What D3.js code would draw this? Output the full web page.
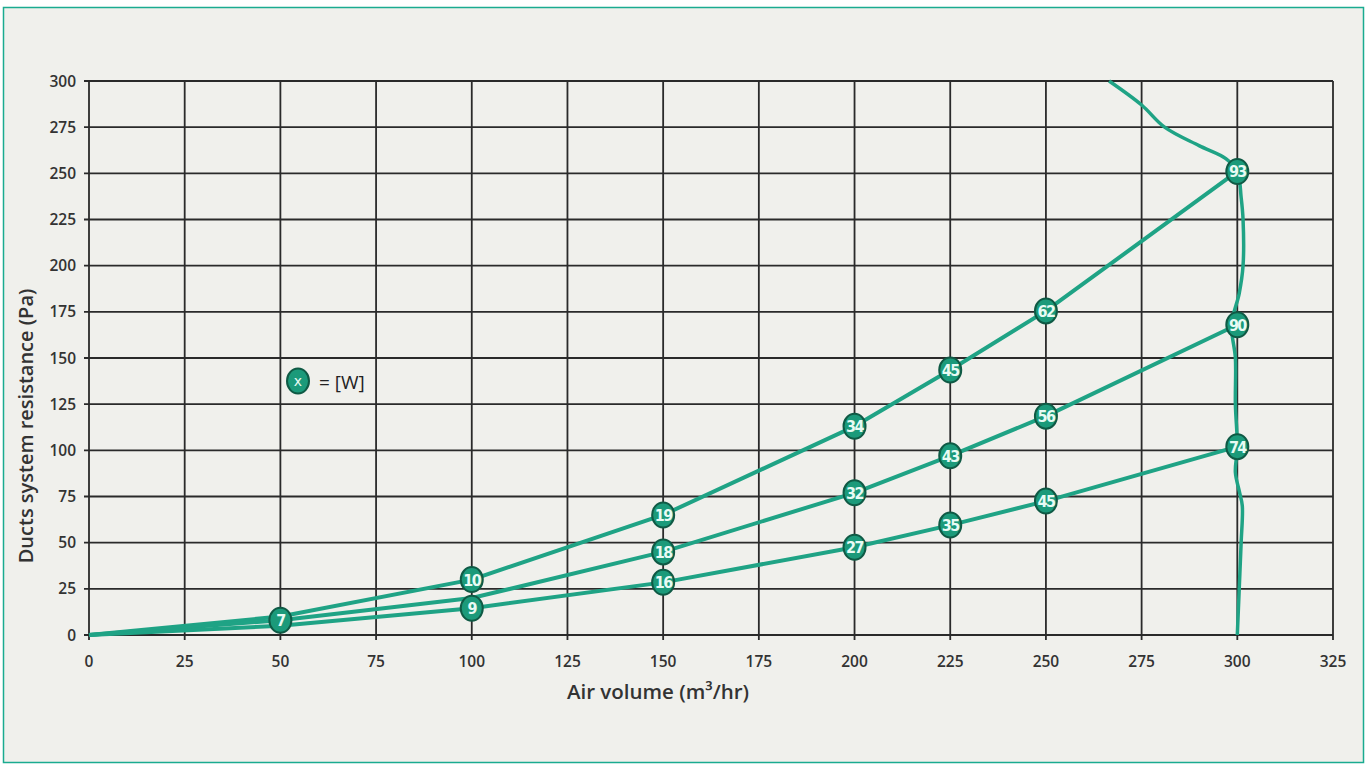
<!DOCTYPE html>
<html><head><meta charset="utf-8">
<script src="https://cdn.jsdelivr.net/npm/d3@7"></script>
<style>
html,body{margin:0;padding:0;background:#fff;}
svg{display:block;}
</style></head>
<body>
<svg id="c" width="1367" height="765"></svg>
<script>
const airVolume = [0, 50, 100, 150, 200, 225, 250, 300];
const resHigh = [0, 10, 30, 65, 113, 143.5, 175.5, 251];
const wattHigh = [null, null, 10, 19, 34, 45, 62, 93];
const resMid = [0, 8, 20, 45, 77, 97, 118.5, 168];
const wattMid = [null, 7, null, 18, 32, 43, 56, 90];
const resLow = [0, 5, 14.5, 28.5, 47.5, 59.5, 72.5, 102];
const wattLow = [null, null, 9, 16, 27, 35, 45, 74];
const fanAir = [266.5, 275, 281, 290, 297, 300, 301, 301.5, 301.5, 300.5, 298.5, 299.5, 299.5, 300, 299.5, 300.5, 301.3, 301, 300.5, 300];
const fanRes = [300, 287, 275, 265, 258, 251, 237, 225, 200, 185, 168, 150, 125, 102, 88, 78, 70, 50, 25, 0];
const xTicks = [0, 25, 50, 75, 100, 125, 150, 175, 200, 225, 250, 275, 300, 325];
const yTicks = [0, 25, 50, 75, 100, 125, 150, 175, 200, 225, 250, 275, 300];

const svg = d3.select("#c");
const teal = "#1fa385", dark = "#0f5a45";
const markFont = "'DejaVu Sans', sans-serif";
svg.append("rect").attr("x",3.5).attr("y",7.5).attr("width",1360).attr("height",755)
  .attr("fill","#f0f0ec").attr("stroke","#1aab90").attr("stroke-width",1.5);

const m = {l:89, r:1333, t:81, b:635};
const x = d3.scaleLinear().domain([0,325]).range([m.l,m.r]);
const y = d3.scaleLinear().domain([0,300]).range([m.b,m.t]);

const g = svg.append("g");
// grid
g.selectAll(".vg").data(xTicks).join("line").attr("x1",d=>x(d)).attr("x2",d=>x(d))
  .attr("y1",y(300)).attr("y2",y(0)+5).attr("stroke","#2a2a2a").attr("stroke-width",1.8);
g.selectAll(".hg").data(yTicks).join("line").attr("y1",d=>y(d)).attr("y2",d=>y(d))
  .attr("x1",x(0)-5).attr("x2",x(325)).attr("stroke","#2a2a2a").attr("stroke-width",1.8);

// tick labels
g.selectAll(".xl").data(xTicks).join("text").attr("x",d=>x(d)).attr("y",667)
  .attr("text-anchor","middle").attr("font-family","Open Sans").attr("font-weight",600)
  .attr("font-size",15.5).attr("fill","#333").text(d=>d);
g.selectAll(".yl").data(yTicks).join("text").attr("x",76).attr("y",d=>y(d)+5.5)
  .attr("text-anchor","end").attr("font-family","Open Sans").attr("font-weight",600)
  .attr("font-size",15.5).attr("fill","#333").text(d=>d);

// titles
svg.append("text").attr("x",658).attr("y",699).attr("text-anchor","middle")
  .attr("font-family","Open Sans").attr("font-weight",600).attr("font-size",20.5).attr("fill","#333")
  .text("Air volume (m³/hr)");
svg.append("text").attr("transform","translate(33,426) rotate(-90)").attr("text-anchor","middle")
  .attr("font-family","Open Sans").attr("font-weight",600).attr("font-size",20).attr("fill","#333")
  .text("Ducts system resistance (Pa)");

// fan curve
const fanPts = fanAir.map((a,i)=>[a,fanRes[i]]);
g.append("path").datum(fanPts).attr("fill","none").attr("stroke",teal).attr("stroke-width",3.5)
  .attr("d", d3.line().x(d=>x(d[0])).y(d=>y(d[1])).curve(d3.curveCatmullRom));

// series
const series = [[resHigh,wattHigh],[resMid,wattMid],[resLow,wattLow]];
const line = d3.line().x(d=>x(d[0])).y(d=>y(d[1]));
series.forEach(([res])=>{
  g.append("path").datum(airVolume.map((a,i)=>[a,res[i]])).attr("fill","none")
   .attr("stroke",teal).attr("stroke-width",4).attr("stroke-linejoin","round").attr("d",line);
});
const marks = [];
series.forEach(([res,w])=>airVolume.forEach((a,i)=>{ if(w[i]!==null) marks.push({a, r:res[i], w:w[i]}); }));
const mg = g.selectAll(".mk").data(marks).join("g").attr("transform",d=>`translate(${x(d.a)},${y(d.r)})`);
mg.append("ellipse").attr("rx",11).attr("ry",12.5).attr("fill","#1b9a7a").attr("stroke",dark).attr("stroke-width",2);
mg.append("text").attr("y",6).attr("text-anchor","middle").attr("font-family",markFont)
  .attr("font-stretch","condensed").attr("font-weight",700).attr("font-size",16).attr("letter-spacing",-1.6)
  .attr("fill","#e8fbf4").text(d=>d.w);

// legend
const lg = svg.append("g").attr("transform","translate(298,381)");
lg.append("ellipse").attr("rx",11).attr("ry",12.5).attr("fill","#1b9a7a").attr("stroke",dark).attr("stroke-width",2);
lg.append("text").attr("y",5).attr("text-anchor","middle").attr("font-family",markFont)
  .attr("font-size",14).attr("fill","#e8fbf4").text("x");
svg.append("text").attr("x",319).attr("y",389).attr("font-family","Open Sans").attr("font-size",19)
  .attr("fill","#222").text("= [W]");
</script>
</body></html>
